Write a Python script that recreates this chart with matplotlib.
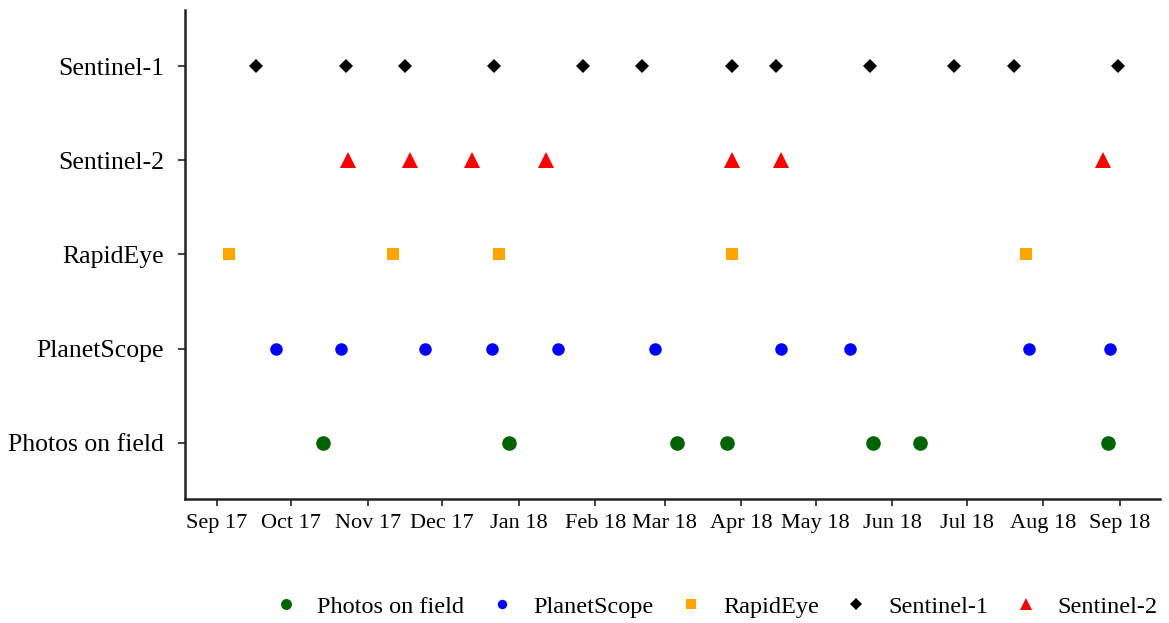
import matplotlib
matplotlib.use("Agg")
import matplotlib.pyplot as plt
import pandas as pd

categories = ["Photos on field", "PlanetScope", "RapidEye", "Sentinel-1", "Sentinel-2"]
row_order = ["Photos on field", "PlanetScope", "RapidEye", "Sentinel-2", "Sentinel-1"]

photos_dates = ["2017-10-14", "2017-12-28", "2018-03-06", "2018-03-26",
                "2018-05-24", "2018-06-12", "2018-08-27"]
planetscope_dates = ["2017-09-25", "2017-10-21", "2017-11-24", "2017-12-21",
                     "2018-01-17", "2018-02-25", "2018-04-17", "2018-05-15",
                     "2018-07-26", "2018-08-28"]
rapideye_dates = ["2017-09-06", "2017-11-11", "2017-12-24", "2018-03-28", "2018-07-25"]
sentinel1_dates = ["2017-09-17", "2017-10-23", "2017-11-16", "2017-12-22",
                   "2018-01-27", "2018-02-20", "2018-03-28", "2018-04-15",
                   "2018-05-23", "2018-06-26", "2018-07-20", "2018-08-31"]
sentinel2_dates = ["2017-10-24", "2017-11-18", "2017-12-13", "2018-01-12",
                   "2018-03-28", "2018-04-17", "2018-08-25"]

tick_dates = ["2017-09-01", "2017-10-01", "2017-11-01", "2017-12-01", "2018-01-01",
              "2018-02-01", "2018-03-01", "2018-04-01", "2018-05-01", "2018-06-01",
              "2018-07-01", "2018-08-01", "2018-09-01"]
tick_labels = ["Sep 17", "Oct 17", "Nov 17", "Dec 17", "Jan 18", "Feb 18", "Mar 18",
               "Apr 18", "May 18", "Jun 18", "Jul 18", "Aug 18", "Sep 18"]

series = {
    "Photos on field": (photos_dates, dict(marker="o", color="#006400", ms=10.5)),
    "PlanetScope": (planetscope_dates, dict(marker="o", color="#0000FF", ms=9)),
    "RapidEye": (rapideye_dates, dict(marker="s", color="#FFA500", ms=9)),
    "Sentinel-1": (sentinel1_dates, dict(marker="D", color="#000000", ms=7.5)),
    "Sentinel-2": (sentinel2_dates, dict(marker="^", color="#FF0000", ms=11)),
}

plt.rcParams["font.family"] = ["Liberation Serif", "DejaVu Serif"]

fig = plt.figure(figsize=(11.69, 6.23), dpi=100)
ax = fig.add_axes([0.158, 0.199, 0.834, 0.785])

for name in categories:
    dates, style = series[name]
    x = pd.to_datetime(dates)
    y = [row_order.index(name)] * len(x)
    ax.plot(x, y, linestyle="none", marker=style["marker"], color=style["color"],
            markersize=style["ms"], markeredgewidth=0, label=name)

ax.set_yticks(range(len(row_order)))
ax.set_yticklabels(row_order, fontsize=18.5)
ax.set_ylim(-0.6, 4.6)

ax.set_xticks(pd.to_datetime(tick_dates))
ax.set_xticklabels(tick_labels, fontsize=16)
ax.set_xlim(pd.Timestamp("2017-08-19"), pd.Timestamp("2018-09-17"))

for s in ["top", "right"]:
    ax.spines[s].set_visible(False)
for s in ["left", "bottom"]:
    ax.spines[s].set_linewidth(1.8)
    ax.spines[s].set_color("#222222")
ax.tick_params(axis="both", length=5, width=1.2, color="#222222")
ax.tick_params(axis="y", pad=10)
ax.tick_params(axis="x", pad=6)

handles, labels = ax.get_legend_handles_labels()
leg = fig.legend(handles, labels, loc="center", bbox_to_anchor=(0.612, 0.026), ncol=5,
                 frameon=False, fontsize=17.5, markerscale=0.75, handlelength=1.0,
                 handletextpad=0.8, columnspacing=1.05)

fig.savefig("out.png", dpi=100)
